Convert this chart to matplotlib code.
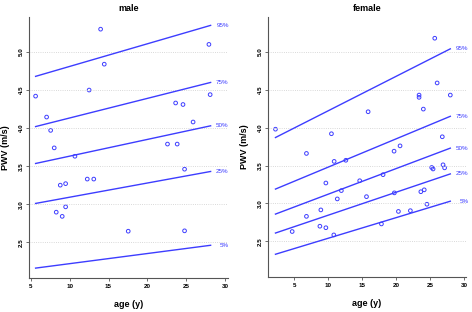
import numpy as np
import matplotlib
matplotlib.use("Agg")
import matplotlib.pyplot as plt

plt.rcParams["font.family"] = ["Liberation Sans", "DejaVu Sans"]

# male: measured points
male_age = [5.6, 13.98, 14.45, 12.5, 7.02, 7.54, 8.0, 10.67, 23.65, 24.6, 25.9, 22.6,
            23.85, 27.94, 28.1, 24.8, 8.78, 9.47, 12.26, 13.1, 8.26, 9.47, 9.03, 17.54, 24.8]
male_pwv = [4.42, 5.30, 4.84, 4.50, 4.145, 3.97, 3.74, 3.63, 4.33, 4.31, 4.08, 3.79,
            3.79, 5.10, 4.44, 3.46, 3.25, 3.27, 3.33, 3.33, 2.895, 2.965, 2.84, 2.645, 2.65]

# female: measured points
female_age = [2.2, 25.65, 26.0, 23.34, 23.34, 27.94, 23.97, 15.84, 10.44, 26.76, 6.76,
              20.54, 19.66, 10.84, 12.56, 25.2, 25.4, 26.87, 27.1, 9.62, 14.6, 18.04,
              11.9, 11.3, 15.6, 19.7, 23.6, 24.1, 8.88, 6.76, 20.3, 22.06, 24.5, 8.74,
              9.62, 4.66, 10.79, 17.8]
female_pwv = [3.98, 5.18, 4.59, 4.43, 4.40, 4.43, 4.245, 4.21, 3.92, 3.88, 3.66,
              3.76, 3.69, 3.555, 3.57, 3.475, 3.455, 3.51, 3.47, 3.27, 3.30, 3.38,
              3.17, 3.06, 3.09, 3.14, 3.155, 3.18, 2.915, 2.83, 2.895, 2.905, 2.99, 2.70,
              2.68, 2.63, 2.585, 2.73]

# percentile lines: (start, end) values
pct_labels = ["95%", "75%", "50%", "25%", "5%"]
male_line_x = [5.6, 28.16]
male_pct_start = [4.68, 4.02, 3.535, 3.01, 2.16]
male_pct_end = [5.35, 4.60, 4.03, 3.43, 2.46]
female_line_x = [2.2, 27.94]
female_pct_start = [3.87, 3.19, 2.86, 2.61, 2.33]
female_pct_end = [5.04, 4.15, 3.73, 3.39, 3.03]

BLUE = "#3d3dff"

fig = plt.figure(figsize=(4.72, 3.12), dpi=100)
ax1 = fig.add_axes([29 / 472, 34 / 312, 199 / 472, 261 / 312])
ax2 = fig.add_axes([268 / 472, 35 / 312, 198 / 472, 260 / 312])


def panel(ax, title, ax_x, ax_y, lx, ps, pe, xlim, label_x):
    for s, e, lab in zip(ps, pe, pct_labels):
        ax.plot(lx, [s, e], color=BLUE, linewidth=1.0)
        ax.text(label_x, e, lab, color=BLUE, fontsize=4.5, ha="right", va="center",
                clip_on=False)
    ax.scatter(ax_x, ax_y, s=7, facecolors="none", edgecolors=BLUE, linewidths=0.7)
    ax.set_xlim(*xlim)
    ax.set_ylim(2.03, 5.46)
    ax.set_xticks([5, 10, 15, 20, 25, 30])
    ax.set_yticks([2.5, 3.0, 3.5, 4.0, 4.5, 5.0])
    ax.set_yticklabels(["2.5", "3.0", "3.5", "4.0", "4.5", "5.0"], rotation=90, va="center")
    ax.tick_params(labelsize=4.5, length=2, width=0.6, color="#555555", pad=2)
    for lbl in ax.get_xticklabels() + ax.get_yticklabels():
        lbl.set_fontweight("bold")
    ax.grid(axis="y", color="#cccccc", linestyle=":", linewidth=0.6)
    for sp in ["top", "right"]:
        ax.spines[sp].set_visible(False)
    for sp in ["left", "bottom"]:
        ax.spines[sp].set_color("#555555")
        ax.spines[sp].set_linewidth(0.8)
    ax.set_title(title, fontsize=6.5, fontweight="bold", pad=4)
    ax.set_xlabel("age (y)", fontsize=6.5, fontweight="bold", labelpad=8)
    ax.set_ylabel("PWV (m/s)", fontsize=6.5, fontweight="bold", labelpad=6)


panel(ax1, "male", male_age, male_pwv, male_line_x, male_pct_start, male_pct_end,
      (4.75, 30.4), 30.5)
panel(ax2, "female", female_age, female_pwv, female_line_x, female_pct_start,
      female_pct_end, (1.1, 30.25), 30.6)

fig.savefig("out.png", dpi=100)
